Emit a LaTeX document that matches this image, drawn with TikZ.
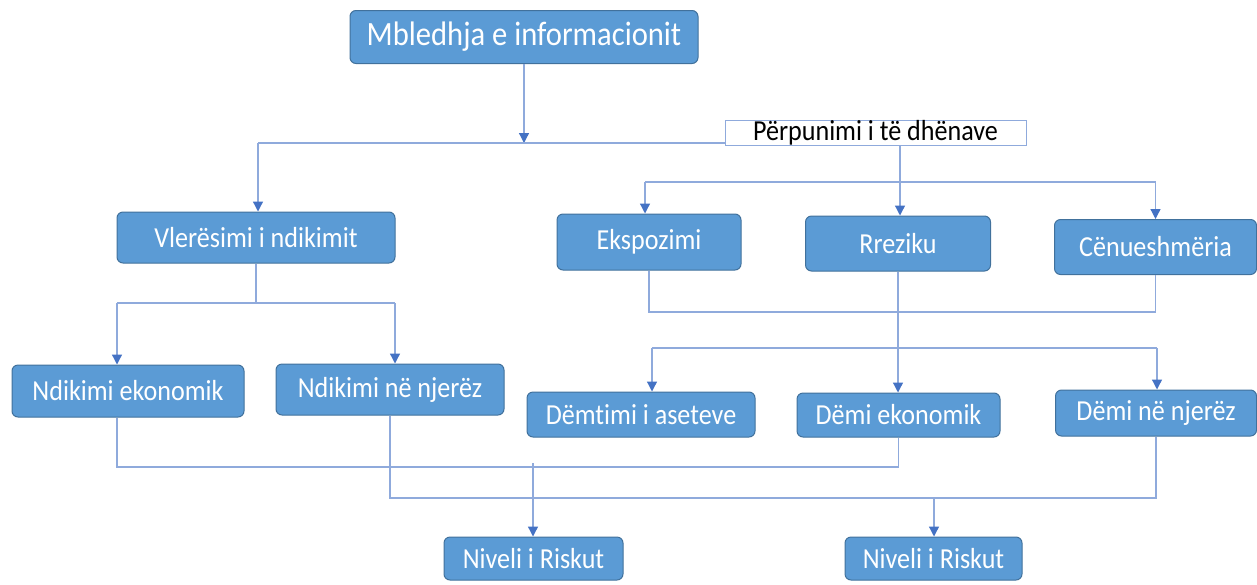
\documentclass[tikz,border=0pt]{standalone}
\usepackage{fontspec}
\setmainfont{Carlito}[FakeStretch=0.9, Ligatures=NoCommon]
\usetikzlibrary{arrows.meta}
\definecolor{boxblue}{HTML}{5B9BD5}
\definecolor{boxedge}{HTML}{41719C}
\definecolor{linecol}{HTML}{8FAADC}
\definecolor{tipcol}{HTML}{4472C4}
\tikzset{
  box/.style={rounded corners=6pt, fill=boxblue, draw=boxedge, line width=1pt,
    text=white, inner sep=0pt, anchor=center, font=\fontsize{29}{32}\selectfont},
  conn/.style={draw=linecol, line width=1.3pt},
  arr/.style={conn, -{Triangle[width=10pt,length=10pt,color=tipcol]}},
}
\begin{document}
\begin{tikzpicture}[x=1pt,y=-1pt]
\useasboundingbox (0,0) rectangle (1257,584);
% nodes
\node[box, minimum width=348pt, minimum height=53pt, font=\fontsize{34}{38}\selectfont] (top) at (524,37) {Mbledhja e informacionit};
\node[draw=linecol, fill=white, line width=1pt, minimum width=301pt, minimum height=25pt, inner sep=0pt, font=\fontsize{29}{32}\selectfont] (perp) at (875.5,133) {Përpunimi i të dhënave};
\node[box, minimum width=278pt, minimum height=51pt] (vler) at (256,237.5) {Vlerësimi i ndikimit};
\node[box, minimum width=184pt, minimum height=56pt] (ekspo) at (649,242) {Ekspozimi};
\node[box, minimum width=185pt, minimum height=55pt] (rrez) at (898,243.5) {Rreziku};
\node[box, minimum width=202pt, minimum height=55pt] (cenu) at (1155.5,247) {Cënueshmëria};
\node[box, minimum width=232pt, minimum height=52pt] (ndek) at (128,391) {Ndikimi ekonomik};
\node[box, minimum width=228pt, minimum height=51pt] (ndnj) at (390,389.5) {Ndikimi në njerëz};
\node[box, minimum width=228pt, minimum height=45pt] (demt) at (641,414.5) {Dëmtimi i aseteve};
\node[box, minimum width=203pt, minimum height=44pt] (demek) at (898.5,415) {Dëmi ekonomik};
\node[box, minimum width=201pt, minimum height=46pt] (demnj) at (1156,413) {Dëmi në njerëz};
\node[box, minimum width=179pt, minimum height=43pt] (niv1) at (533.5,558.5) {Niveli i Riskut};
\node[box, minimum width=177pt, minimum height=43pt] (niv2) at (933.5,558.5) {Niveli i Riskut};
% junctions
\coordinate (j1) at (524,143);
\coordinate (jL) at (258,143);
\coordinate (jP) at (900,182);
\coordinate (jE) at (645,182);
\coordinate (jC) at (900,312);
\coordinate (dA) at (652,348);
\coordinate (dB) at (1157,348);
\coordinate (jV) at (256,303);
\coordinate (vA) at (117,303);
\coordinate (vB) at (395,303);
\coordinate (b1) at (117,467);
\coordinate (b2) at (390,498);
\coordinate (n1) at (533,463);
\coordinate (n2) at (934,498);
% connectors
\draw[arr] (top.south) -- (j1);
\draw[conn] (jL) -- (perp.west |- jL);
\draw[arr] (jL) -- (jL |- vler.north);
\draw[arr] (jP |- perp.south) -- (jP |- rrez.north);
\draw[conn] (jE) -- (cenu.north |- jP);
\draw[arr] (jE) -- (jE |- ekspo.north);
\draw[arr] (cenu.north |- jP) -- (cenu.north);
\draw[conn] (ekspo.south) |- (jC) -| (cenu.south);
\draw[arr] (rrez.south) -- (rrez.south |- demek.north);
\draw[conn] (dA) -- (dB);
\draw[arr] (dA) -- (dA |- demt.north);
\draw[arr] (dB) -- (dB |- demnj.north);
\draw[conn] (vler.south) -- (jV);
\draw[conn] (vA) -- (vB);
\draw[arr] (vA) -- (vA |- ndek.north);
\draw[arr] (vB) -- (vB |- ndnj.north);
\draw[conn] (b1 |- ndek.south) -- (b1) -| (demek.south);
\draw[conn] (ndnj.south) -- (b2) -| (demnj.south);
\draw[arr] (n1) -- (n1 |- niv1.north);
\draw[arr] (n2) -- (n2 |- niv2.north);
\end{tikzpicture}
\end{document}
